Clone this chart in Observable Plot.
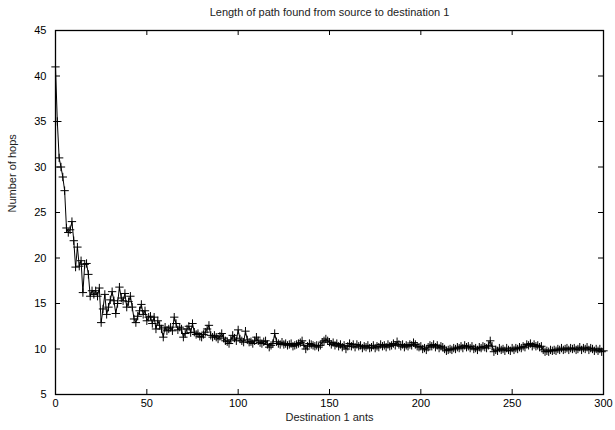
<!DOCTYPE html>
<html>
<head>
<meta charset="utf-8">
<script src="https://cdn.jsdelivr.net/npm/d3@7"></script>
<script src="https://cdn.jsdelivr.net/npm/@observablehq/plot@0.6"></script>
<style>
  body { margin: 0; background: #fff; }
  svg { font-family: "Liberation Sans", Arial, sans-serif; }
</style>
</head>
<body>
<div id="chart"></div>
<script>
const title = "Length of path found from source to destination 1";
const xLabel = "Destination 1 ants";
const yLabel = "Number of hops";
const xTicks = [0, 50, 100, 150, 200, 250, 300];
const yTicks = [5, 10, 15, 20, 25, 30, 35, 40, 45];

// hops per ant index 0..300
const hops = [
  41, 35, 31, 30, 28.9, 27.4, 23.3, 22.8, 23.1, 24.0,
  21.9, 19.0, 21.2, 19.1, 19.7, 16.2, 19.3, 19.4, 18.2, 15.8,
  16.4, 16.0, 16.4, 15.8, 16.7, 12.9, 14.4, 16.0, 13.8, 14.6,
  15.4, 16.3, 15.3, 13.9, 15.0, 16.8, 15.6, 15.3, 16.1, 14.6,
  15.2, 15.8, 14.6, 13.3, 12.9, 13.6, 14.2, 14.9, 13.8, 14.2,
  13.1, 13.5, 13.6, 12.8, 13.5, 12.2, 13.1, 12.6, 12.2, 11.3,
  12.4, 12.0, 12.2, 12.4, 12.0, 13.5, 12.8, 12.1, 12.4, 12.2,
  11.3, 11.7, 12.2, 12.5, 11.8, 12.8, 11.85, 11.6, 11.7, 11.4,
  11.3, 11.6, 11.85, 12.2, 12.6, 11.5, 11.3, 11.5, 11.3, 11.1,
  11.4, 11.7, 11.2, 10.9, 10.8, 10.6, 11.0, 11.5, 11.2, 10.9,
  12.1, 11.1, 10.9, 10.75, 11.96, 11.0, 10.75, 10.8, 10.6, 10.9,
  11.3, 10.9, 10.7, 10.6, 10.8, 10.9, 10.5, 10.2, 10.4, 10.6,
  11.7, 10.8, 10.6, 10.5, 10.75, 10.5, 10.6, 10.4, 10.5, 10.6,
  10.3, 10.4, 10.5, 10.6, 10.7, 10.9, 10.4, 10.0, 10.3, 10.6,
  10.5, 10.4, 10.3, 10.4, 10.2, 10.4, 10.75, 10.9, 11.1, 10.9,
  10.75, 10.5, 10.7, 10.4, 10.6, 10.3, 10.5, 10.2, 10.4, 10.0,
  10.3, 10.6, 10.3, 10.5, 10.2, 10.5, 10.3, 10.4, 10.1, 10.3,
  10.2, 10.4, 10.1, 10.2, 10.4, 10.1, 10.3, 10.2, 10.5, 10.3,
  10.4, 10.2, 10.5, 10.3, 10.4, 10.6, 10.4, 10.8, 10.5, 10.3,
  10.5, 10.2, 10.4, 10.3, 10.5, 10.4, 10.7, 10.5, 10.3, 10.2,
  10.3, 10.0, 10.1, 9.9, 10.2, 10.4, 10.3, 10.5, 10.2, 10.4,
  10.1, 10.3, 10.2, 10.0, 9.8, 9.9, 10.0, 9.9, 10.1, 10.0,
  10.2, 10.1, 10.3, 10.1, 10.4, 10.2, 10.3, 10.1, 10.3, 10.0,
  10.1, 9.9, 10.2, 10.1, 10.3, 10.2, 10.1, 10.4, 10.9, 10.3,
  9.7, 9.9, 9.8, 10.1, 9.9, 10.0, 9.8, 10.1, 9.9, 9.8,
  10.1, 9.9, 10.1, 10.0, 10.2, 10.1, 10.3, 10.2, 10.5, 10.4,
  10.6, 10.3, 10.5, 10.3, 10.4, 10.2, 10.3, 9.9, 9.7, 9.8,
  9.7, 9.9, 9.8, 9.9, 9.8, 10.0, 9.9, 10.1, 9.9, 10.0,
  10.1, 9.9, 10.1, 10.0, 10.1, 9.9, 10.0, 10.2, 9.9, 10.1,
  10.0, 10.2, 9.9, 10.1, 10.0, 9.8, 10.0, 9.8, 10.0, 9.7,
  9.8
];

const data = hops.map((v, i) => ({ant: i, hops: v}));

const W = 615, H = 430;
const mL = 55, mR = 12, mT = 30, mB = 36;
const fw = W - mL - mR, fh = H - mT - mB;
const tick = 5;

const chart = Plot.plot({
  width: W,
  height: H,
  marginLeft: mL,
  marginRight: mR,
  marginTop: mT,
  marginBottom: mB,
  style: {fontFamily: '"Liberation Sans", Arial, sans-serif', fontSize: "11px", color: "#000", background: "#fff"},
  x: {domain: [0, 300]},
  y: {domain: [5, 45]},
  marks: [
    Plot.axisX(xTicks, {tickSize: 0, tickPadding: 5, fontSize: 11, label: null}),
    Plot.axisY(yTicks, {tickSize: 0, tickPadding: 9, fontSize: 11, label: null}),
    // inward ticks on all four sides
    Plot.tickX(xTicks, {x: d => d, insetTop: fh - tick, stroke: "#000"}),
    Plot.tickX(xTicks, {x: d => d, insetBottom: fh - tick, stroke: "#000"}),
    Plot.tickY(yTicks, {y: d => d, insetRight: fw - tick, stroke: "#000"}),
    Plot.tickY(yTicks, {y: d => d, insetLeft: fw - tick, stroke: "#000"}),
    Plot.line(data, {x: "ant", y: "hops", stroke: "#000", strokeWidth: 1}),
    Plot.dot(data, {x: "ant", y: "hops", symbol: "plus", r: 2.8, stroke: "#000", strokeWidth: 1}),
    Plot.frame({stroke: "#000", strokeWidth: 1.3}),
    Plot.text([title], {frameAnchor: "top", dy: -22, fontSize: 11, fill: "#222"}),
    Plot.text([xLabel], {frameAnchor: "bottom", dy: 26, fontSize: 11, fill: "#222"}),
    Plot.text([yLabel], {frameAnchor: "left", dx: -43, rotate: -90, fontSize: 11, fill: "#222"})
  ]
});
document.getElementById("chart").appendChild(chart);
</script>
</body>
</html>
